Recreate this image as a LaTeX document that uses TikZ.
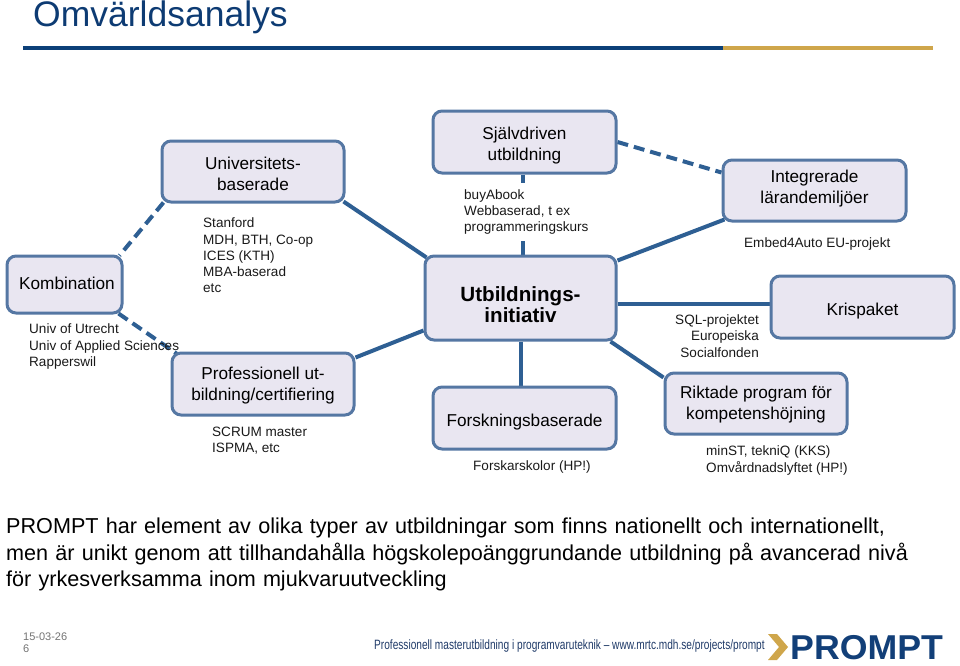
\documentclass[tikz,border=0pt]{standalone}
\usepackage{fontspec}
\setmainfont{Liberation Sans}
\usetikzlibrary{calc,backgrounds}
\definecolor{boxfill}{HTML}{E9E6F1}
\definecolor{boxline}{HTML}{5577A3}
\definecolor{conn}{HTML}{2E5F93}
\definecolor{titleblue}{HTML}{0D3B73}
\definecolor{ruleblue}{HTML}{0C4078}
\definecolor{rulegold}{HTML}{CFA64B}
\definecolor{foot}{HTML}{1F3A68}
\definecolor{logoblue}{HTML}{123F78}
\newcommand{\shifted}[2]{\raisebox{\dimexpr #1-6.3pt\relax}[0pt][0pt]{\begin{tabular}{@{}c@{}}#2\end{tabular}}}
\tikzset{
  x=1pt,y=-1pt,
  nbox/.style={draw=boxline,fill=boxfill,line width=3pt,rounded corners=9pt,align=center,inner sep=0pt,
    font=\fontsize{17.2}{21}\selectfont},
  note/.style={inner sep=0pt,font=\fontsize{13.55}{16.2}\selectfont,align=left,text=black!90},
  link/.style={draw=conn,line width=4pt},
  dlink/.style={draw=conn,line width=4pt,dash pattern=on 11pt off 6pt},
}
\begin{document}
\begin{tikzpicture}
\useasboundingbox (0,0) rectangle (960,665);
\node[anchor=west,inner sep=0pt,text=titleblue,font=\fontsize{35.5}{40}\selectfont] (title) at (33,17) {Omvärldsanalys};
\coordinate (r0) at (23,48); \coordinate (r1) at (723,48); \coordinate (r2) at (933,48);
\draw[ruleblue,line width=4pt] (r0) -- (r1);
\draw[rulegold,line width=4pt] (r1) -- (r2);

\node[nbox,minimum width=182pt,minimum height=61pt] (uni) at (253,171.5) {\shifted{-2pt}{Universitets-\\baserade}};
\node[nbox,minimum width=183pt,minimum height=62pt] (sjalv) at (524.5,142) {\shifted{-1.5pt}{Självdriven\\utbildning}};
\node[nbox,minimum width=183pt,minimum height=61pt] (integ) at (814.5,190.5) {\shifted{4pt}{Integrerade\\lärandemiljöer}};
\node[nbox,minimum width=115pt,minimum height=57pt] (komb) at (64.5,284.5) {\shifted{1.5pt}{\hspace*{5pt}Kombination}};
\node[nbox,minimum width=182pt,minimum height=62pt] (prof) at (263,384) {\shifted{0pt}{Professionell ut-\\bildning/certifiering}};
\node[nbox,minimum width=191pt,minimum height=84pt,font=\fontsize{20.6}{21.6}\selectfont\bfseries] (utb) at (520.5,298) {\shifted{-8.5pt}{Utbildnings-\\initiativ}};
\node[nbox,minimum width=183pt,minimum height=62pt] (forsk) at (524.5,418) {\shifted{-2pt}{Forskningsbaserade}};
\node[nbox,minimum width=183pt,minimum height=62pt] (kris) at (862.5,307) {\shifted{-2pt}{Krispaket}};
\node[nbox,minimum width=182pt,minimum height=61pt] (rikt) at (756,403.5) {\shifted{1pt}{Riktade program för\\kompetenshöjning}};

\node[note,anchor=west] (n1) at (203,255.5) {Stanford\\MDH, BTH, Co-op\\ICES (KTH)\\MBA-baserad\\etc};
\node[note,anchor=west,fill=white,inner ysep=6pt] (n2) at (464,212) {buyAbook\\Webbaserad, t ex\\programmeringskurs};
\node[note,anchor=west] (n3) at (744,244) {Embed4Auto EU-projekt};
\node[note,anchor=west] (n4) at (29,346.5) {Univ of Utrecht\\Univ of Applied Sciences\\Rapperswil};
\node[note,anchor=west] (n5) at (212,441) {SCRUM master\\ISPMA, etc};
\node[note,anchor=west] (n6) at (473,466.5) {Forskarskolor (HP!)};
\node[note,anchor=east,align=right] (n7) at (759,336) {SQL-projektet\\Europeiska\\Socialfonden};
\node[note,anchor=west] (n8) at (706,460.5) {minST, tekniQ (KKS)\\Omvårdnadslyftet (HP!)};

\begin{scope}[on background layer]
\draw[dlink] ($(uni.south west)+(3,-1)$) -- ($(komb.north east)+(-4,1)$);
\draw[dlink] ($(komb.south east)+(-5,-1)$) -- ($(prof.north west)+(6,2)$);
\draw[dlink] (sjalv.east) -- ($(integ.north west)+(0,14)$);
\draw[link] (sjalv.south -| forsk.south) ++(-2,0) -- ($(utb.north)+(2,0)$);
\draw[link] (uni.south east) ++(-2,-2) -- ($(utb.north west)+(3,3)$);
\draw[link] ($(prof.north east)+(0,6)$) -- ($(utb.south west)+(0,-11)$);
\draw[link] ($(utb.north east)+(0,6)$) -- ($(integ.south west)+(3,-3)$);
\draw[link,line width=3.2pt] ($(utb.east)+(0,6)$) -- ($(kris.west)+(0,-3)$);
\draw[link] ($(utb.south east)+(-7,0)$) -- ($(rikt.north west)+(0,6)$);
\draw[link] ($(utb.south)+(0.5,0)$) -- ($(forsk.north)+(-3.5,0)$);
\end{scope}

\node[anchor=north west,inner sep=0pt,text width=940pt,align=left,text=black,font=\fontsize{21.6}{26.5}\selectfont] (body) at (6,518) {PROMPT har element av olika typer av utbildningar som finns nationellt och internationellt,\\men är unikt genom att tillhandahålla högskolepoänggrundande utbildning på avancerad nivå\\för yrkesverksamma inom mjukvaruutveckling};

\node[anchor=west,inner sep=0pt,align=left,text=black!55,font=\fontsize{11}{12.5}\selectfont] (date) at (23,642.5) {15-03-26\\6};
\node[anchor=west,inner sep=0pt,text=foot] (ftxt) at (374,646) {\scalebox{0.75}[1]{\fontsize{13.5}{15}\selectfont Professionell masterutbildning i programvaruteknik – www.mrtc.mdh.se/projects/prompt}};
\fill[rulegold] (768,634) -- (777,634) -- (788,647) -- (777,660) -- (768,660) -- (779,647) -- cycle;
\node[anchor=west,inner sep=0pt,text=logoblue] (logo) at (790,647.5) {\scalebox{1.19}[1.15]{\fontsize{30}{32}\selectfont\bfseries PROMPT}};
\end{tikzpicture}
\end{document}
